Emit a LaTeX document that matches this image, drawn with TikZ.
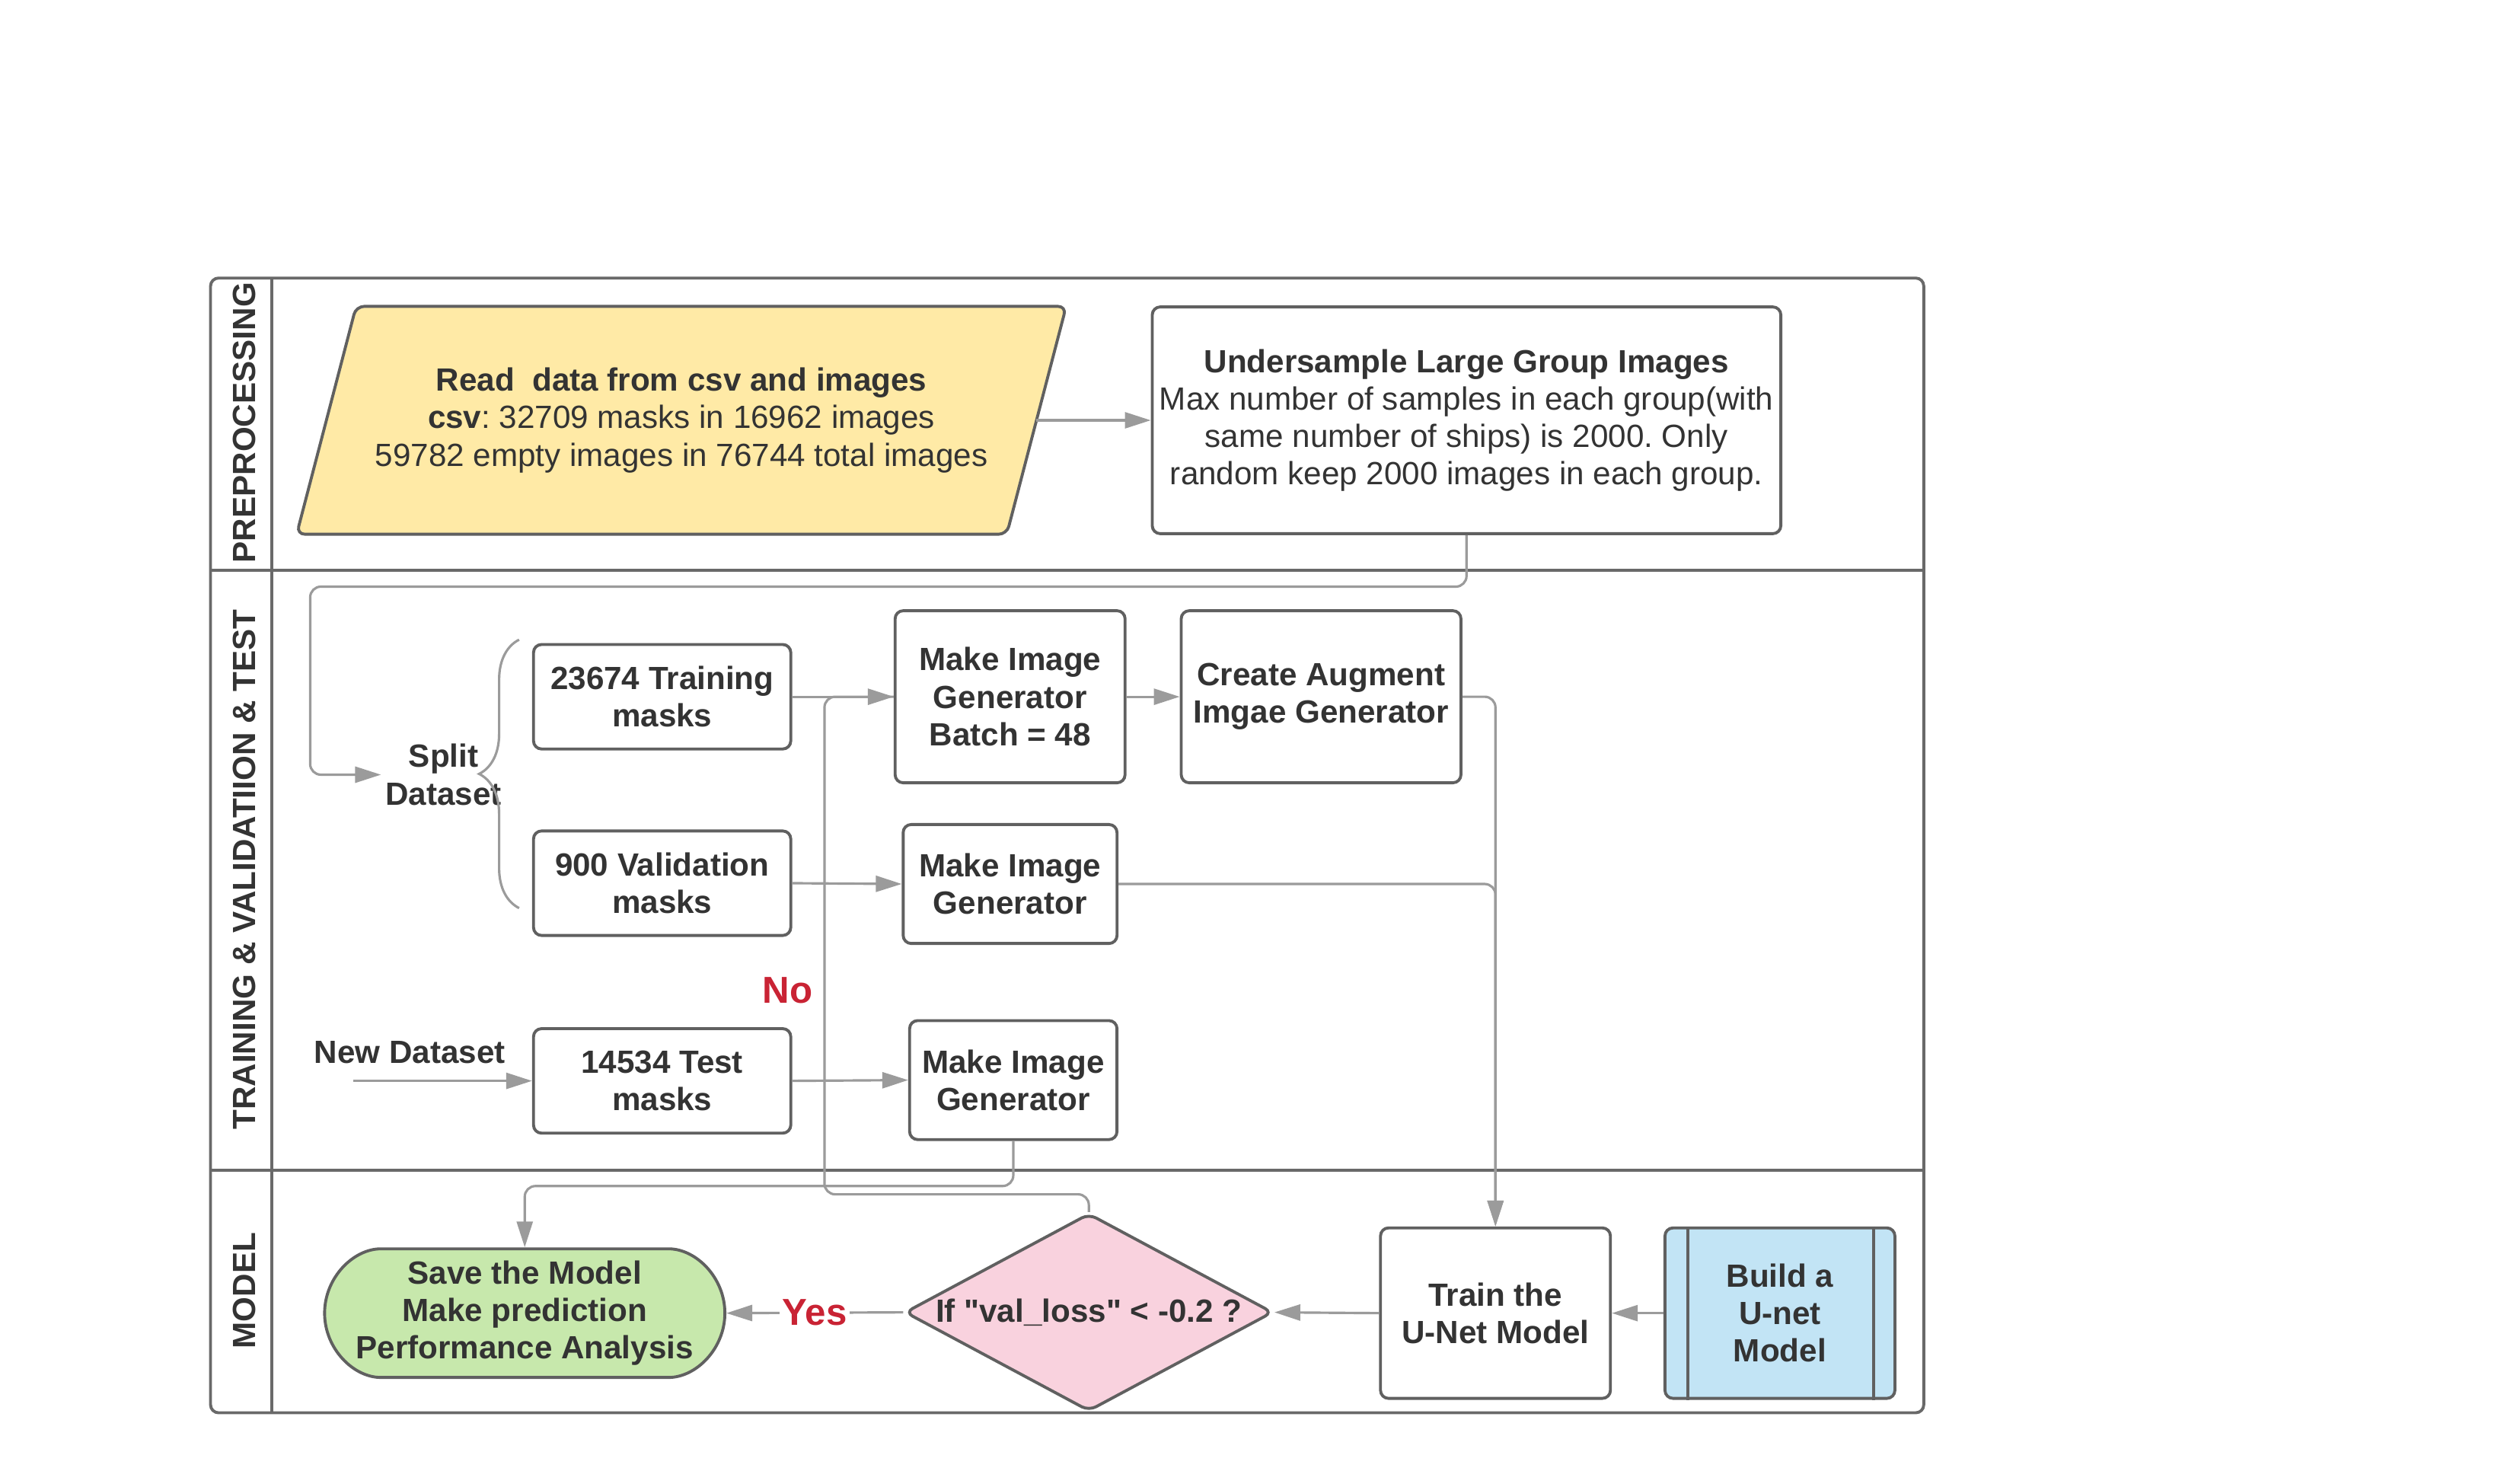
\documentclass[tikz,border=0pt]{standalone}
\usepackage{fontspec}
\setmainfont{Liberation Sans}[Ligatures=TeXOff]
\usetikzlibrary{shapes.geometric,shapes.misc,arrows.meta,decorations.pathreplacing,backgrounds}
\definecolor{txt}{RGB}{51,51,51}
\definecolor{edge}{RGB}{96,96,96}
\definecolor{conn}{RGB}{155,155,155}
\definecolor{frm}{RGB}{105,105,105}
\definecolor{rdfill}{RGB}{255,234,166}
\definecolor{savefill}{RGB}{199,232,172}
\definecolor{decfill}{RGB}{249,210,222}
\definecolor{buildfill}{RGB}{194,228,245}
\definecolor{lblred}{RGB}{201,35,52}
\frenchspacing
\begin{document}
\begin{tikzpicture}
  [x=0.02111cm,y=-0.02111cm,
   every node/.style={text=txt,font=\bfseries\fontsize{12}{14}\selectfont,align=center},
   box/.style={draw=edge,line width=1.1pt,rounded corners=3pt,fill=white,inner sep=0pt},
   arr/.style={draw=conn,line width=0.9pt,-{Triangle[length=0.34cm,width=0.21cm]}},
   conline/.style={draw=conn,line width=0.9pt},
   lanelbl/.style={rotate=90},
   redlbl/.style={text=lblred,font=\bfseries\fontsize{14}{16}\selectfont}]
  \useasboundingbox (0,0) rectangle (1568,915.2);
  % swimlanes
  \draw[frm,line width=1.1pt,rounded corners=3pt] (131,173) rectangle (1197,879);
  \draw[frm,line width=1.1pt] (169,173) -- (169,879);
  \draw[frm,line width=1.1pt] (131,355) -- (1197,355);
  \draw[frm,line width=1.1pt] (131,728) -- (1197,728);
  \node[lanelbl] (lpre) at (152,263) {PREPROCESSING};
  \node[lanelbl] (ltrn) at (152,541) {TRAINING \& VALIDATIION \& TEST};
  \node[lanelbl] (lmod) at (152,803) {MODEL};
  % preprocessing
  \node[inner sep=0pt,minimum width=9.31cm,minimum height=2.977cm] (read) at (424,261.5)
    {Read~ data from csv and images\\{\mdseries\textbf{csv}: 32709 masks in 16962 images}\\{\mdseries 59782 empty images in 76744 total images}};
  \begin{scope}[on background layer]
    \draw[edge,fill=rdfill,line width=1.1pt,rounded corners=3pt]
      ([xshift=0.39cm]read.north west) -- ([xshift=0.39cm]read.north east) --
      ([xshift=-0.39cm]read.south east) -- ([xshift=-0.39cm]read.south west) -- cycle;
  \end{scope}
  \node[box,minimum width=8.254cm,minimum height=2.977cm] (under) at (912.5,261.5)
    {Undersample Large Group Images\\{\mdseries Max number of samples in each group(with}\\{\mdseries same number of ships) is 2000. Only}\\{\mdseries random keep 2000 images in each group.}};
  % training & validation & test
  \node[inner sep=1.5pt] (split) at (276,482) {Split\\Dataset};
  \node[box,minimum width=3.378cm,minimum height=1.372cm] (trn) at (412,433.5) {23674 Training\\masks};
  \node[box,minimum width=3.378cm,minimum height=1.372cm] (val) at (412,549.5) {900 Validation\\masks};
  \node[box,minimum width=3.378cm,minimum height=1.372cm] (tst) at (412,672.5) {14534 Test\\masks};
  \node (newds) at (255,655) {New Dataset};
  \coordinate (ndin) at (220,672.5);
  \node[box,minimum width=3.019cm,minimum height=2.259cm] (mig1) at (628.5,433.5) {Make Image\\Generator\\Batch = 48};
  \node[box,minimum width=3.673cm,minimum height=2.259cm] (aug) at (822,433.5) {Create Augment\\Imgae Generator};
  \node[box,minimum width=2.808cm,minimum height=1.562cm] (mig2) at (628.5,550) {Make Image\\Generator};
  \node[box,minimum width=2.723cm,minimum height=1.562cm] (mig3) at (630.5,672) {Make Image\\Generator};
  \node[redlbl] (no) at (490,616) {No};
  % model
  \node[box,rounded rectangle,fill=savefill,minimum width=5.256cm,minimum height=1.689cm] (save) at (326.5,817)
    {Save the Model\\Make prediction\\Performance Analysis};
  \node[box,diamond,fill=decfill,aspect=1.86,minimum width=4.834cm,minimum height=2.596cm] (dec) at (677.5,816.5)
    {If "val\_loss" < -0.2 ?};
  \node[box,minimum width=3.019cm,minimum height=2.238cm] (unet) at (930.5,817) {Train the\\U-Net Model};
  \node[box,fill=buildfill,minimum width=3.019cm,minimum height=2.238cm] (build) at (1107.5,817) {Build a\\U-net\\Model};
  \draw[edge,line width=1.1pt] ([xshift=0.317cm]build.north west) -- ([xshift=0.317cm]build.south west);
  \draw[edge,line width=1.1pt] ([xshift=-0.30cm]build.north east) -- ([xshift=-0.30cm]build.south east);
  % connectors
  \draw[conn,line width=0.9pt,decorate,decoration={brace,amplitude=0.525cm}] (323,565) -- (323,398);
  \draw[conline,rounded corners=4pt] (dec.north) -- ++(0,-11) -| (513,433.5) -- (mig1.west);
  \foreach \from/\to in {read.east/under.west,trn.east/mig1.west,mig1.east/aug.west,val.east/mig2.west,
                         tst.east/mig3.west,ndin/tst.west,unet.west/dec.east,build.west/unet.east}
    \draw[arr] (\from) -- (\to);
  \draw[arr,rounded corners=4pt] (under.south) |- (193,365) |- (split.west);
  \draw[arr,rounded corners=4pt] (aug.east) -| (unet.north);
  \draw[arr,rounded corners=4pt] (mig2.east) -| (unet.north);
  \draw[arr,rounded corners=4pt] (mig3.south) -- ++(0,28) -| (save.north);
  \draw[arr] (dec.west) -- node[fill=white,inner sep=1pt,redlbl] (yes) {Yes} (save.east);
\end{tikzpicture}
\end{document}
